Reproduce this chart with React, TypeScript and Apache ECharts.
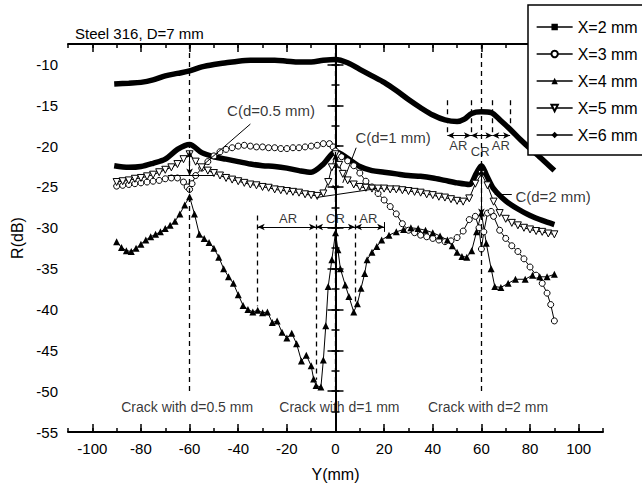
import React, { useEffect, useRef } from 'react';
import * as echarts from 'echarts';

const FONT = '"Liberation Sans", Arial, sans-serif';

// Tick values
const xMajor = [-100, -80, -60, -40, -20, 0, 20, 40, 60, 80, 100];
const yMajor = [-55, -50, -45, -40, -35, -30, -25, -20, -15, -10];

// Series data: [Y (mm), R (dB)]
const seriesX2: [number, number][] = [
  [-91, -12.4], [-85, -12.3], [-80, -12.2], [-75, -11.9], [-70, -11.4], [-65, -11.1], [-60, -10.8],
  [-55, -10.3], [-50, -10.0], [-45, -9.8], [-40, -9.6], [-35, -9.5], [-30, -9.5], [-25, -9.5],
  [-20, -9.6], [-15, -9.7], [-10, -9.7], [-5, -9.5], [0, -9.4], [5, -9.8], [10, -10.6], [15, -11.4],
  [20, -12.2], [25, -13.2], [30, -14.3], [35, -15.3], [40, -16.2], [45, -16.8], [50, -17.0],
  [53, -16.7], [56, -16.0], [60, -15.8], [64, -15.9], [68, -16.9], [72, -18.0], [76, -19.2],
  [80, -20.3], [85, -21.6], [90, -23.0],
];

const seriesX3: [number, number][] = [
  [-90, -24.9], [-87.5, -24.8], [-85, -24.7], [-82.5, -24.6], [-80, -24.5], [-77.5, -24.4], [-75, -24.3],
  [-72.5, -24.2], [-70, -24.0], [-67.5, -23.9], [-65, -23.9], [-62.5, -24.4], [-61, -25.0], [-60, -25.3],
  [-59, -24.6], [-57.5, -23.6], [-55, -22.7], [-52.5, -21.9], [-50, -21.2], [-47.5, -20.7], [-45, -20.4],
  [-42.5, -20.2], [-40, -20.0], [-37.5, -19.9], [-35, -20.0], [-32.5, -20.1], [-30, -20.1], [-27.5, -20.2],
  [-25, -20.2], [-22.5, -20.3], [-20, -20.3], [-17.5, -20.2], [-15, -20.2], [-12.5, -20.1], [-10, -20.0],
  [-7.5, -19.9], [-5, -19.7], [-2.5, -19.7], [-1, -20.1], [0, -20.6], [1, -21.0], [2.5, -21.3], [5, -21.8],
  [7.5, -22.4], [10, -23.3], [12.5, -24.3], [15, -25.0], [17.5, -25.8], [20, -26.6], [22.5, -27.4],
  [25, -28.3], [27.5, -29.5], [30, -30.3], [32.5, -30.6], [35, -30.9], [37.5, -31.1], [40, -31.3],
  [42.5, -31.5], [45, -31.7], [47.5, -31.6], [50, -31.2], [52.5, -30.4], [55, -29.0], [57.5, -28.6],
  [59, -30.0], [60, -32.6], [61, -30.5], [62.5, -28.2], [64, -28.0], [65, -28.6], [67.5, -30.3],
  [70, -31.3], [72.5, -32.2], [75, -32.9], [77.5, -33.8], [80, -34.8], [82.5, -35.8], [85, -36.8],
  [87, -38.0], [88.5, -39.4], [90, -41.4],
];

const seriesX4: [number, number][] = [
  [-90, -31.7], [-88, -32.4], [-86, -32.8], [-84, -32.9], [-82, -32.5], [-80, -32.0], [-78, -31.5],
  [-76, -31.1], [-74, -30.8], [-72, -30.5], [-70, -30.1], [-68, -29.7], [-66, -29.2], [-64, -28.3],
  [-62, -27.2], [-60, -26.2], [-58, -28.3], [-56, -30.8], [-54, -31.3], [-52, -31.8], [-50, -32.5],
  [-48, -33.6], [-46, -35.0], [-44, -36.0], [-42, -36.8], [-40, -38.2], [-38, -39.5], [-36, -40.0],
  [-34, -40.3], [-32, -40.1], [-30, -40.4], [-28, -40.3], [-26, -41.6], [-24, -41.4], [-22, -42.8],
  [-20, -43.5], [-18, -42.9], [-16, -44.2], [-14, -46.3], [-12, -45.6], [-10, -46.9], [-9, -48.5],
  [-8, -49.3], [-6, -49.5], [-5, -46.2], [-4, -42.0], [-3, -37.2], [-1.5, -33.9], [0, -30.6],
  [1, -32.7], [2, -35.0], [4, -37.0], [5.5, -38.4], [7.5, -40.3], [9, -39.3], [10.5, -37.4],
  [12, -35.6], [13, -33.9], [15, -33.0], [17, -32.3], [19, -31.5], [22, -30.9], [25, -30.5],
  [28, -30.2], [31, -30.0], [34, -30.1], [37, -30.3], [40, -30.6], [43, -31.0], [46, -31.5],
  [48, -32.2], [50, -33.0], [52, -33.5], [54, -33.6], [56, -32.8], [58, -30.5], [60, -28.2],
  [62, -31.9], [64, -35.0], [65.5, -37.2], [68, -37.3], [71, -36.8], [74, -36.3], [78, -36.3],
  [81, -35.8], [84, -36.0], [87, -36.0], [90, -35.7],
];

const seriesX5: [number, number][] = [
  [-90, -24.4], [-87.5, -24.3], [-85, -24.2], [-82.5, -24.0], [-80, -23.9], [-77.5, -23.7], [-75, -23.5],
  [-72.5, -23.2], [-70, -22.9], [-67.5, -22.6], [-65, -22.2], [-62.5, -21.6], [-60, -21.0], [-57.5, -21.9],
  [-55, -22.6], [-52.5, -23.0], [-50, -23.3], [-47.5, -23.6], [-45, -23.9], [-42.5, -24.1], [-40, -24.3],
  [-37.5, -24.5], [-35, -24.7], [-32.5, -24.8], [-30, -25.0], [-27.5, -25.1], [-25, -25.3], [-22.5, -25.4],
  [-20, -25.5], [-17.5, -25.6], [-15, -25.7], [-12.5, -25.9], [-10, -26.0], [-7.5, -26.1], [-5, -25.8],
  [-3, -24.4], [-1.5, -22.6], [0, -21.0], [1.5, -22.3], [3, -23.4], [5, -24.2], [7.5, -24.7], [10, -25.0],
  [12.5, -25.1], [15, -25.2], [17.5, -25.2], [20, -25.2], [22.5, -25.3], [25, -25.3], [27.5, -25.4],
  [30, -25.5], [32.5, -25.6], [35, -25.7], [37.5, -25.9], [40, -26.0], [42.5, -26.2], [45, -26.3],
  [47.5, -26.5], [50, -26.7], [52.5, -26.8], [55, -26.4], [57.5, -24.6], [60, -23.4], [62.5, -24.8],
  [65, -26.8], [67.5, -28.2], [70, -28.9], [72.5, -29.4], [75, -29.7], [77.5, -30.0], [80, -30.2],
  [82.5, -30.4], [85, -30.5], [87.5, -30.7], [90, -30.8],
];

const seriesX6: [number, number][] = [
  [-91, -22.4], [-85, -22.6], [-80, -22.5], [-75, -22.1], [-70, -21.6], [-65, -20.4], [-60, -19.8],
  [-55, -20.8], [-50, -21.3], [-45, -21.6], [-40, -21.9], [-35, -22.2], [-30, -22.4], [-25, -22.5],
  [-20, -22.7], [-15, -23.0], [-10, -23.2], [-5, -22.2], [0, -20.7], [5, -21.5], [10, -22.5], [15, -23.0],
  [20, -23.2], [25, -23.4], [30, -23.6], [35, -23.7], [40, -23.9], [45, -24.2], [50, -24.5], [55, -24.7],
  [58, -23.3], [60, -22.4], [62, -23.5], [65, -25.2], [70, -26.7], [75, -27.7], [80, -28.5], [85, -29.1],
  [90, -29.6],
];

const seriesNames = ['X=2 mm', 'X=3 mm', 'X=4 mm', 'X=5 mm', 'X=6 mm'];

// Annotations: [x1, y1, x2, y2]
const dashedSegs = [
  [-60, -7.5, -60, -50], [0, -7.5, 0, -50], [60, -7.5, 60, -50],
  [-32, -28.5, -32, -39.6], [-8, -28.5, -8, -48.6], [8, -28.5, 8, -39.5],
  [46, -14.4, 46, -18.4], [55.7, -14.4, 55.7, -18.4], [64.5, -14.4, 64.5, -18.4], [71.8, -14.4, 71.8, -18.4],
];
const arrowSegs = [
  [-32, -29.9, -8, -29.9], [-8, -29.9, 8, -29.9], [8, -29.9, 20, -29.9],
  [46, -18.7, 55.7, -18.7], [55.7, -18.7, 64.5, -18.7], [64.5, -18.7, 71.8, -18.7],
  [-60, -20.6, -60, -23.6], [0, -20.9, 0, -25.6], [60, -22.8, 60, -28.5],
];
const thinSegs = [
  [-35, -17.3, -54, -22.2], [-69, -23.6, -50, -23.6], [8.5, -20.2, 3, -24.5],
  [-8, -26.3, 17, -25.2], [65.5, -25.9, 72.5, -25.9], [20, -29.3, 20, -30.5],
];
const crackLabels: [number, number, string][] = [
  [-61, -51.9, 'Crack with d=0.5 mm'], [1.6, -51.9, 'Crack with d=1 mm'], [62.7, -51.9, 'Crack with d=2 mm'],
];
const regionLabels: [number, number, string][] = [
  [-19.5, -28.9, 'AR'], [0, -28.9, 'CR'], [13.5, -28.9, 'AR'],
  [50.5, -19.9, 'AR'], [59.5, -20.6, 'CR'], [68, -19.9, 'AR'],
];
const cLabels: [number, number, string][] = [
  [-26.5, -15.7, 'C(d=0.5 mm)'], [23.7, -18.9, 'C(d=1 mm)'], [89.5, -26.2, 'C(d=2 mm)'],
];

const segData = (segs: number[][]) =>
  segs.map((s) => [{ coord: [s[0], s[1]] }, { coord: [s[2], s[3]] }]);

const textSeries = (labels: [number, number, string][], size: number) => ({
  type: 'scatter',
  xAxisIndex: 0,
  yAxisIndex: 0,
  symbolSize: 0,
  silent: true,
  data: labels.map((l) => ({ value: [l[0], l[1]], name: l[2] })),
  label: {
    show: true,
    position: 'inside',
    formatter: (p: any) => p.name,
    color: '#000',
    fontSize: size,
    fontFamily: FONT,
  },
});

const axisLineStyle = { color: '#000', width: 2 };
const tickStyle = { color: '#000', width: 1.5 };

export default function App() {
  const ref = useRef<HTMLDivElement>(null);
  useEffect(() => {
    const chart = echarts.init(ref.current!, null, { renderer: 'svg' });
    const lineBase = {
      type: 'line',
      xAxisIndex: 0,
      yAxisIndex: 0,
      color: '#000',
    };
    chart.setOption({
      animation: false,
      backgroundColor: '#fff',
      textStyle: { fontFamily: FONT },
      title: {
        text: 'Steel 316, D=7 mm',
        left: 70,
        top: 21,
        textStyle: { fontSize: 15, fontWeight: 'normal', color: '#000', fontFamily: FONT },
      },
      legend: {
        data: seriesNames,
        orient: 'vertical',
        left: 528,
        top: 5,
        itemWidth: 36,
        itemHeight: 8,
        itemGap: 11,
        padding: [14, 10, 12, 8],
        borderColor: '#000',
        borderWidth: 1.5,
        backgroundColor: '#fff',
        lineStyle: { width: 1.3, color: '#000' },
        textStyle: { fontSize: 16, color: '#000', fontFamily: FONT },
      },
      grid: { left: 68, right: 39, top: 44, bottom: 49, containLabel: false },
      xAxis: [
        {
          type: 'value', position: 'bottom', min: -110, max: 110, interval: 10,
          axisLine: { show: true, lineStyle: axisLineStyle },
          axisTick: { show: true, inside: true, length: 4, lineStyle: tickStyle },
          axisLabel: { show: false }, splitLine: { show: false },
        },
        {
          type: 'value', position: 'bottom', min: -110, max: 110,
          axisLine: { show: false },
          axisTick: { show: true, inside: true, length: 8, lineStyle: tickStyle, customValues: xMajor },
          axisLabel: { show: true, customValues: xMajor, fontSize: 15, color: '#000', margin: 9, fontFamily: FONT },
          splitLine: { show: false },
          name: 'Y(mm)', nameLocation: 'middle', nameGap: 34,
          nameTextStyle: { fontSize: 16, color: '#000', fontFamily: FONT },
        },
        {
          type: 'value', position: 'top', min: -110, max: 110, interval: 10,
          axisLine: { show: true, lineStyle: axisLineStyle },
          axisTick: { show: true, inside: true, length: 4, lineStyle: tickStyle },
          axisLabel: { show: false }, splitLine: { show: false },
        },
        {
          type: 'value', position: 'top', min: -110, max: 110,
          axisLine: { show: false },
          axisTick: { show: true, inside: true, length: 8, lineStyle: tickStyle, customValues: xMajor },
          axisLabel: { show: false }, splitLine: { show: false },
        },
      ],
      yAxis: [
        {
          type: 'value', position: 'left', min: -55, max: -7.5, interval: 2.5,
          axisLine: { show: true, lineStyle: axisLineStyle },
          axisTick: { show: true, inside: true, length: 4, lineStyle: tickStyle },
          axisLabel: { show: false }, splitLine: { show: false },
        },
        {
          type: 'value', position: 'left', min: -55, max: -7.5,
          axisLine: { show: false },
          axisTick: { show: true, inside: true, length: 8, lineStyle: tickStyle, customValues: yMajor },
          axisLabel: { show: true, customValues: yMajor, fontSize: 15, color: '#000', margin: 10, fontFamily: FONT },
          splitLine: { show: false },
          name: 'R(dB)', nameLocation: 'middle', nameGap: 42,
          nameTextStyle: { fontSize: 16, color: '#000', fontFamily: FONT },
        },
        {
          type: 'value', position: 'right', min: -55, max: -7.5, interval: 2.5,
          axisLine: { show: true, lineStyle: axisLineStyle },
          axisTick: { show: true, inside: true, length: 4, lineStyle: tickStyle },
          axisLabel: { show: false }, splitLine: { show: false },
        },
        {
          type: 'value', position: 'right', min: -55, max: -7.5,
          axisLine: { show: false },
          axisTick: { show: true, inside: true, length: 8, lineStyle: tickStyle, customValues: yMajor },
          axisLabel: { show: false }, splitLine: { show: false },
        },
      ],
      series: [
        {
          ...lineBase,
          name: 'X=2 mm', data: seriesX2, smooth: 0.3,
          symbol: 'rect', symbolSize: 7, showSymbol: false,
          lineStyle: { color: '#000', width: 5.5 }, itemStyle: { color: '#000' },
        },
        {
          ...lineBase,
          name: 'X=3 mm', data: seriesX3,
          symbol: 'circle', symbolSize: 6, showSymbol: true,
          lineStyle: { color: '#000', width: 1 },
          itemStyle: { color: '#fff', borderColor: '#000', borderWidth: 1 },
        },
        {
          ...lineBase,
          name: 'X=4 mm', data: seriesX4,
          symbol: 'triangle', symbolSize: 7, showSymbol: true,
          lineStyle: { color: '#000', width: 1 }, itemStyle: { color: '#000' },
        },
        {
          ...lineBase,
          name: 'X=5 mm', data: seriesX5,
          symbol: 'triangle', symbolRotate: 180, symbolSize: 7, showSymbol: true,
          lineStyle: { color: '#000', width: 1 },
          itemStyle: { color: '#fff', borderColor: '#000', borderWidth: 1 },
        },
        {
          ...lineBase,
          name: 'X=6 mm', data: seriesX6, smooth: 0.3,
          symbol: 'diamond', symbolSize: 8, showSymbol: false,
          lineStyle: { color: '#000', width: 5.5 }, itemStyle: { color: '#000' },
        },
        {
          type: 'line', xAxisIndex: 0, yAxisIndex: 0, data: [], silent: true,
          markLine: {
            silent: true, symbol: ['none', 'none'], label: { show: false },
            lineStyle: { color: '#000', width: 1.3, type: [5, 4] },
            data: segData(dashedSegs),
          },
        },
        {
          type: 'line', xAxisIndex: 0, yAxisIndex: 0, data: [], silent: true,
          markLine: {
            silent: true, symbol: ['arrow', 'arrow'], symbolSize: [5, 7], label: { show: false },
            lineStyle: { color: '#000', width: 1, type: 'solid' },
            data: segData(arrowSegs),
          },
        },
        {
          type: 'line', xAxisIndex: 0, yAxisIndex: 0, data: [], silent: true,
          markLine: {
            silent: true, symbol: ['none', 'none'], label: { show: false },
            lineStyle: { color: '#000', width: 1, type: 'solid' },
            data: segData(thinSegs),
          },
        },
        textSeries(crackLabels, 14),
        textSeries(regionLabels, 13),
        textSeries(cLabels, 15),
      ],
    });
    return () => chart.dispose();
  }, []);
  return (
    <div
      ref={ref}
      style={{ position: 'fixed', left: 0, top: 0, width: 642, height: 487, background: '#fff' }}
    />
  );
}
